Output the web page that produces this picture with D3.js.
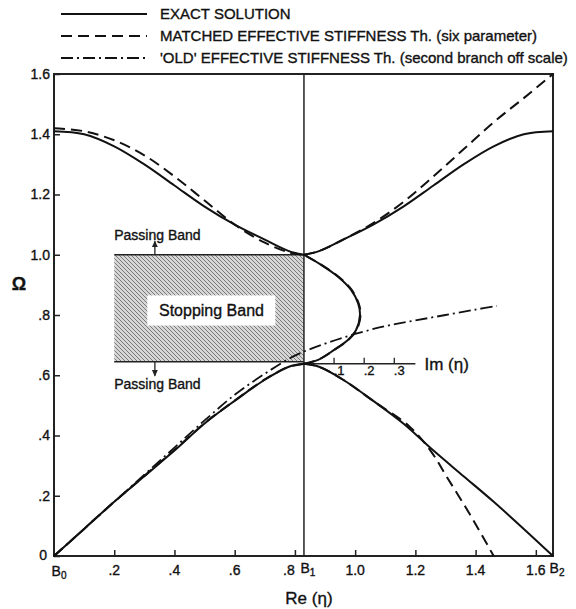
<!DOCTYPE html>
<html lang="en">
<head>
<meta charset="utf-8">
<title>Dispersion spectrum</title>
<script src="https://cdn.jsdelivr.net/npm/d3@7"></script>
<style>
  body { margin: 0; background: #fff; }
  text { font-family: "Liberation Sans", Arial, sans-serif; fill: #111; stroke: #111; stroke-width: 0.35px; }
</style>
</head>
<body>
<script>

// ---- data (Re(eta), Omega) ----
var B1 = 0.83, B2 = 1.657;

var yTicks = [0, 0.2, 0.4, 0.6, 0.8, 1.0, 1.2, 1.4, 1.6];
var yTickLabels = ["0", ".2", ".4", ".6", ".8", "1.0", "1.2", "1.4", "1.6"];
var xTicks = [0.2, 0.4, 0.6, 0.8, 1.0, 1.2, 1.4, 1.6];
var xTickLabels = [".2", ".4", ".6", ".8", "1.0", "1.2", "1.4", "1.6"];
var imTicks = [0.1, 0.2, 0.3];
var imTickLabels = [".1", ".2", ".3"];

// exact solution
var exactAcoustic = [[0,0],[0.1,0.09],[0.2,0.18],[0.3,0.265],[0.4,0.35],[0.5,0.44],[0.6,0.515],[0.7,0.585],[0.78,0.628],[0.83,0.638]];
var exactAcousticR = [[0.83,0.638],[0.88,0.628],[0.96,0.585],[1.06,0.515],[1.16,0.44],[1.26,0.35],[1.36,0.265],[1.46,0.18],[1.56,0.09],[1.657,0]];
var exactOpticL = [[0,1.41],[0.1,1.40],[0.2,1.36],[0.3,1.30],[0.4,1.23],[0.5,1.16],[0.6,1.10],[0.7,1.05],[0.78,1.012],[0.83,1.0]];
var exactOpticR = [[0.83,1.0],[0.88,1.012],[0.96,1.05],[1.06,1.10],[1.16,1.16],[1.26,1.23],[1.36,1.30],[1.46,1.36],[1.56,1.40],[1.657,1.41]];
// stopping band, Im(eta) against Omega
var exactIm = [[0,0.638],[0.047,0.651],[0.10,0.684],[0.146,0.717],[0.173,0.75],[0.186,0.8],[0.18,0.838],[0.156,0.884],[0.113,0.927],[0.056,0.967],[0,1.0]];

// matched effective stiffness theory (six parameter)
var matchedAcoustic = [[0,0],[0.1,0.09],[0.2,0.18],[0.3,0.266],[0.4,0.352],[0.5,0.441],[0.6,0.516],[0.7,0.586],[0.78,0.628],[0.83,0.638]];
var matchedAcousticR = [[0.83,0.638],[0.88,0.628],[0.96,0.585],[1.06,0.515],[1.18,0.43],[1.25,0.35],[1.306,0.26],[1.38,0.14],[1.46,0]];
var matchedOpticL = [[0,1.42],[0.1,1.41],[0.2,1.38],[0.3,1.33],[0.4,1.26],[0.5,1.18],[0.6,1.10],[0.7,1.04],[0.78,1.008],[0.83,1.0]];
var matchedOpticR = [[0.83,1.0],[0.88,1.012],[0.96,1.05],[1.06,1.105],[1.16,1.175],[1.26,1.26],[1.36,1.35],[1.46,1.44],[1.56,1.52],[1.657,1.6]];
var matchedIm = [[0,0.638],[0.048,0.652],[0.102,0.685],[0.148,0.718],[0.175,0.751],[0.188,0.8],[0.182,0.838],[0.158,0.884],[0.115,0.927],[0.057,0.967],[0,1.0]];

// 'old' effective stiffness theory
var oldAcoustic = [[0,0],[0.1,0.09],[0.2,0.18],[0.3,0.27],[0.4,0.36],[0.5,0.45],[0.6,0.535],[0.7,0.605],[0.8,0.665],[0.9,0.705],[1.0,0.737],[1.1,0.763],[1.2,0.782],[1.3,0.80],[1.4,0.818],[1.47,0.83]];

var legendLabels = ["EXACT SOLUTION",
  "MATCHED EFFECTIVE STIFFNESS Th. (six parameter)",
  "'OLD' EFFECTIVE STIFFNESS Th. (second branch off scale)"];

// stopping band box
var bandLeft = 0.2, bandLow = 0.645, bandHigh = 1.0;

// ---- canvas ----
var w = 576, h = 609;
var svg = d3.select("body").append("svg")
  .attr("width", w)
  .attr("height", h);

var x = d3.scaleLinear().domain([0, B2]).range([54, 553]);
var y = d3.scaleLinear().domain([0, 1.6]).range([556, 74]);

// hatch pattern for stopping band
var defs = svg.append("defs");
var pat = defs.append("pattern")
  .attr("id", "hatch")
  .attr("patternUnits", "userSpaceOnUse")
  .attr("width", 4).attr("height", 4);
pat.append("rect").attr("width", 4).attr("height", 4).attr("fill", "#d6d6d6");
pat.append("path").attr("d", "M-1,3 l2,2 M0,0 l4,4 M3,-1 l2,2")
  .attr("stroke", "#7a7a7a").attr("stroke-width", 1);

svg.append("rect")
  .attr("x", x(bandLeft))
  .attr("y", y(bandHigh))
  .attr("width", x(B1) - x(bandLeft))
  .attr("height", y(bandLow) - y(bandHigh))
  .attr("fill", "url(#hatch)");
[bandHigh, bandLow].forEach(function(v) {
  svg.append("line")
    .attr("x1", x(bandLeft)).attr("x2", x(B1))
    .attr("y1", y(v)).attr("y2", y(v))
    .attr("stroke", "#222").attr("stroke-width", 1.5);
});

// label box
svg.append("rect")
  .attr("x", x(0.31)).attr("y", y(0.865))
  .attr("width", x(0.735) - x(0.31)).attr("height", y(0.765) - y(0.865))
  .attr("fill", "#fff");
svg.append("text")
  .attr("x", x(0.523)).attr("y", y(0.815))
  .attr("dy", "0.35em")
  .attr("text-anchor", "middle")
  .attr("font-size", 16)
  .text("Stopping Band");

// passing band labels with arrows
svg.append("text").attr("x", x(0.2)).attr("y", y(1.065)).attr("dy", "0.35em")
  .attr("font-size", 14).text("Passing Band");
svg.append("text").attr("x", x(0.2)).attr("y", y(0.57)).attr("dy", "0.35em")
  .attr("font-size", 14).text("Passing Band");
defs.append("marker").attr("id", "arr")
  .attr("viewBox", "0 0 10 10").attr("refX", 8).attr("refY", 5)
  .attr("markerWidth", 6).attr("markerHeight", 6).attr("orient", "auto")
  .append("path").attr("d", "M0,1 L9,5 L0,9 z").attr("fill", "#222");
svg.append("line")
  .attr("x1", x(0.335)).attr("x2", x(0.335))
  .attr("y1", y(bandHigh)).attr("y2", y(1.045))
  .attr("stroke", "#222").attr("stroke-width", 1.3).attr("marker-end", "url(#arr)");
svg.append("line")
  .attr("x1", x(0.335)).attr("x2", x(0.335))
  .attr("y1", y(bandLow)).attr("y2", y(0.598))
  .attr("stroke", "#222").attr("stroke-width", 1.3).attr("marker-end", "url(#arr)");

// ---- axes ----
var frame = svg.append("g");
frame.append("rect")
  .attr("x", x(0)).attr("y", y(1.6))
  .attr("width", x(B2) - x(0)).attr("height", y(0) - y(1.6))
  .attr("fill", "none").attr("stroke", "#222").attr("stroke-width", 2);
frame.append("line")
  .attr("x1", x(B1)).attr("x2", x(B1)).attr("y1", y(1.6)).attr("y2", y(0))
  .attr("stroke", "#222").attr("stroke-width", 1.5);

var yAxis = d3.axisRight(y).tickValues(yTicks).tickSize(6).tickFormat("");
svg.append("g").attr("transform", "translate(" + x(0) + ",0)").call(yAxis)
  .call(function(g) { g.select(".domain").remove(); })
  .selectAll("line").attr("stroke", "#222").attr("stroke-width", 1.5);
svg.selectAll(".ylab").data(yTicks).enter().append("text")
  .attr("class", "ylab")
  .attr("x", function(d) { return d === 0 ? 47 : 50; })
  .attr("y", function(d) { return d === 0 ? y(d) - 1 : y(d); })
  .attr("dy", "0.35em")
  .attr("text-anchor", "end")
  .attr("font-size", 14)
  .text(function(d, i) { return yTickLabels[i]; });

var xAxis = d3.axisTop(x).tickValues(xTicks).tickSize(6).tickFormat("");
svg.append("g").attr("transform", "translate(0," + y(0) + ")").call(xAxis)
  .call(function(g) { g.select(".domain").remove(); })
  .selectAll("line").attr("stroke", "#222").attr("stroke-width", 1.5);
svg.selectAll(".xlab").data(xTicks).enter().append("text")
  .attr("class", "xlab")
  .attr("x", function(d) { return x(d) - (d === 0.8 ? 6 : 0); })
  .attr("y", y(0) + 19)
  .attr("text-anchor", "middle")
  .attr("font-size", 14)
  .text(function(d, i) { return xTickLabels[i]; });

// zone boundary labels B0, B1, B2
var zones = [[0, "0"], [B1, "1"], [B2, "2"]];
zones.forEach(function(z) {
  var t = svg.append("text")
    .attr("x", x(z[0]) + (z[0] === 0 ? 5 : 4))
    .attr("y", y(0) + (z[0] === 0 ? 20 : 17))
    .attr("text-anchor", "middle")
    .attr("font-size", 14);
  t.append("tspan").text("B");
  t.append("tspan").attr("font-size", 10).attr("dy", 3).text(z[1]);
});

svg.append("text")
  .attr("x", x(B1) + 5).attr("y", 604)
  .attr("text-anchor", "middle").attr("font-size", 17)
  .text("Re (\u03b7)");
svg.append("text")
  .attr("x", 19).attr("y", y(0.905)).attr("dy", "0.35em")
  .attr("text-anchor", "middle").attr("font-size", 18).attr("font-weight", "bold")
  .text("\u03a9");

// Im(eta) axis
var im = d3.scaleLinear().domain([0, 1]).range([x(B1), x(B1 + 1)]);
var imY = y(0.638);
svg.append("line")
  .attr("x1", im(0)).attr("x2", im(0.37)).attr("y1", imY).attr("y2", imY)
  .attr("stroke", "#222").attr("stroke-width", 1.5);
svg.selectAll(".imtick").data(imTicks).enter().append("line")
  .attr("x1", function(d) { return im(d); }).attr("x2", function(d) { return im(d); })
  .attr("y1", imY).attr("y2", imY - 6)
  .attr("stroke", "#222").attr("stroke-width", 1.3);
svg.selectAll(".imlab").data(imTicks).enter().append("text")
  .attr("x", function(d) { return im(d) + 5; }).attr("y", imY + 11)
  .attr("text-anchor", "middle").attr("font-size", 13)
  .text(function(d, i) { return imTickLabels[i]; });
svg.append("text")
  .attr("x", im(0.4)).attr("y", imY).attr("dy", "0.35em")
  .attr("font-size", 17).text("Im (\u03b7)");

// ---- curves ----
var line = d3.line()
  .x(function(d) { return x(d[0]); })
  .y(function(d) { return y(d[1]); })
  .curve(d3.curveCatmullRom.alpha(0.5));
var imLine = d3.line()
  .x(function(d) { return im(d[0]); })
  .y(function(d) { return y(d[1]); })
  .curve(d3.curveCatmullRom.alpha(0.5));

var styles = {
  exact: { dash: null, width: 2 },
  matched: { dash: "11,6", width: 2 },
  old: { dash: "12,4,2,4", width: 1.8 }
};

function draw(data, st, gen) {
  svg.append("path")
    .datum(data)
    .attr("d", gen || line)
    .attr("fill", "none")
    .attr("stroke", "#111")
    .attr("stroke-width", st.width)
    .attr("stroke-dasharray", st.dash);
}

[exactAcoustic, exactAcousticR, exactOpticL, exactOpticR].forEach(function(d) { draw(d, styles.exact); });
draw(exactIm, styles.exact, imLine);
[matchedAcoustic, matchedAcousticR, matchedOpticL, matchedOpticR].forEach(function(d) { draw(d, styles.matched); });
draw(matchedIm, styles.matched, imLine);
draw(oldAcoustic, styles.old);

// ---- legend ----
var legendStyles = [styles.exact, styles.matched, styles.old];
var lg = svg.selectAll(".legend").data(legendLabels).enter().append("g")
  .attr("transform", function(d, i) { return "translate(0," + (14 + i * 22) + ")"; });
lg.append("line")
  .attr("x1", 61).attr("x2", 147)
  .attr("stroke", "#111").attr("stroke-width", 1.8)
  .attr("stroke-dasharray", function(d, i) { return legendStyles[i].dash; });
lg.append("text")
  .attr("x", 160).attr("dy", "0.35em")
  .attr("font-size", 15)
  .text(function(d) { return d; });

</script>
</body>
</html>
